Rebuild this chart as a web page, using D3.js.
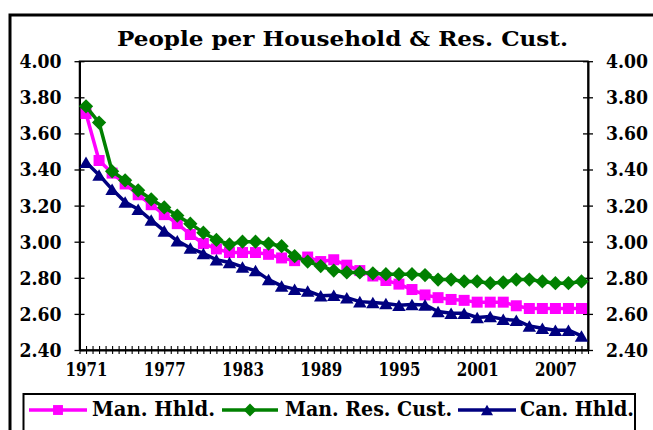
<!DOCTYPE html>
<html>
<head>
<meta charset="utf-8">
<script src="https://cdn.jsdelivr.net/npm/d3@7"></script>
<style>
  html, body { margin: 0; padding: 0; background: #fff; }
  svg { display: block; }
  text { font-family: "DejaVu Serif", "Liberation Serif", serif; font-weight: bold; fill: #000; }
</style>
</head>
<body>
<svg id="chart" width="653" height="430"></svg>
<script>
// People per household, 1971-2009
const years = [1971, 1972, 1973, 1974, 1975, 1976, 1977, 1978, 1979, 1980,
  1981, 1982, 1983, 1984, 1985, 1986, 1987, 1988, 1989, 1990,
  1991, 1992, 1993, 1994, 1995, 1996, 1997, 1998, 1999, 2000,
  2001, 2002, 2003, 2004, 2005, 2006, 2007, 2008, 2009];

const manHhld = [3.71, 3.45, 3.38, 3.32, 3.26, 3.205, 3.15, 3.10, 3.04, 2.99,
  2.96, 2.94, 2.94, 2.94, 2.93, 2.91, 2.895, 2.915, 2.89, 2.90,
  2.87, 2.84, 2.81, 2.785, 2.765, 2.735, 2.705, 2.69, 2.68, 2.675,
  2.665, 2.665, 2.665, 2.645, 2.63, 2.63, 2.63, 2.63, 2.63];

const manResCust = [3.75, 3.66, 3.39, 3.34, 3.285, 3.235, 3.19, 3.145, 3.10, 3.05,
  3.01, 2.985, 3.00, 3.00, 2.99, 2.975, 2.92, 2.89, 2.865, 2.84,
  2.83, 2.83, 2.825, 2.82, 2.82, 2.82, 2.815, 2.79, 2.79, 2.78,
  2.78, 2.77, 2.775, 2.79, 2.79, 2.78, 2.77, 2.77, 2.78];

const canHhld = [3.44, 3.37, 3.29, 3.22, 3.18, 3.12, 3.06, 3.005, 2.965, 2.935,
  2.90, 2.885, 2.86, 2.84, 2.79, 2.755, 2.737, 2.727, 2.70, 2.703,
  2.69, 2.668, 2.663, 2.658, 2.648, 2.652, 2.65, 2.613, 2.604, 2.604,
  2.58, 2.585, 2.57, 2.565, 2.533, 2.52, 2.51, 2.51, 2.478];

const yTicks = [2.40, 2.60, 2.80, 3.00, 3.20, 3.40, 3.60, 3.80, 4.00];
const xLabels = [1971, 1977, 1983, 1989, 1995, 2001, 2007];

const series = [
  { name: 'Man. Hhld.', values: manHhld, color: '#FF00FF', marker: 'square' },
  { name: 'Man. Res. Cust.', values: manResCust, color: '#008000', marker: 'diamond' },
  { name: 'Can. Hhld.', values: canHhld, color: '#000080', marker: 'triangle' }
];

const svg = d3.select('#chart');
const PLOT = { left: 79.5, right: 588, top: 61.2, bottom: 350 };

// fond + cadre épais (coupé à droite et en bas comme sur l'original)
svg.append('rect').attr('width', 653).attr('height', 430).attr('fill', '#fff');
svg.append('path')
  .attr('d', 'M10,440 L10,15 L670,15')
  .attr('fill', 'none').attr('stroke', '#000').attr('stroke-width', 3);

svg.append('text')
  .attr('x', 342.5).attr('y', 46)
  .attr('text-anchor', 'middle')
  .style('font-size', '21px')
  .attr('textLength', 451).attr('lengthAdjust', 'spacingAndGlyphs')
  .text('People per Household & Res. Cust.');

const x = d3.scaleLinear()
  .domain([years[0] - 0.5, years[years.length - 1] + 0.5])
  .range([PLOT.left, PLOT.right]);
const y = d3.scaleLinear().domain([2.4, 4.0]).range([PLOT.bottom, PLOT.top]);

// bordure de la zone de tracé
svg.append('rect')
  .attr('x', PLOT.left).attr('y', PLOT.top)
  .attr('width', PLOT.right - PLOT.left).attr('height', PLOT.bottom - PLOT.top)
  .attr('fill', 'none').attr('stroke', '#000').attr('stroke-width', 1.5);

// --- Axes Y (gauche + droite, graduations en croix) ---
const fmt = d3.format('.2f');
const yLeft = svg.append('g').attr('transform', `translate(${PLOT.left},0)`)
  .call(d3.axisLeft(y).tickValues(yTicks).tickFormat(fmt).tickSizeInner(5).tickSizeOuter(0).tickPadding(13));
const yRight = svg.append('g').attr('transform', `translate(${PLOT.right},0)`)
  .call(d3.axisRight(y).tickValues(yTicks).tickFormat(fmt).tickSizeInner(5).tickSizeOuter(0).tickPadding(13));
[yLeft, yRight].forEach((g, k) => {
  g.select('.domain').attr('stroke', '#000').attr('stroke-width', 2);
  g.selectAll('.tick line').attr('x1', k === 0 ? 5 : -5).attr('stroke-width', 1.3);
  g.selectAll('.tick text').style('font-size', '18px').attr('font-family', null).attr('dy', '0.36em')
    .attr('textLength', 42).attr('lengthAdjust', 'spacingAndGlyphs');
});

// --- Axe X : graduations toutes les demi-années, étiquettes tous les 6 ans ---
const halfSteps = d3.range(years[0] - 0.5, years[years.length - 1] + 0.51, 0.5);
const xTickG = svg.append('g').attr('transform', `translate(0,${PLOT.bottom})`)
  .call(d3.axisBottom(x).tickValues(halfSteps).tickFormat('').tickSizeInner(4).tickSizeOuter(0));
xTickG.select('.domain').attr('stroke', '#000').attr('stroke-width', 2);
xTickG.selectAll('.tick line').attr('y1', -4).attr('stroke-width', 1.1);

const xLabG = svg.append('g').attr('transform', `translate(0,${PLOT.bottom})`)
  .call(d3.axisBottom(x).tickValues(xLabels).tickFormat(d3.format('d')).tickSize(0).tickPadding(13));
xLabG.select('.domain').remove();
xLabG.selectAll('.tick text').style('font-size', '18px').attr('font-family', null)
  .attr('textLength', 42).attr('lengthAdjust', 'spacingAndGlyphs');

// --- Marqueurs ---
function markerPath(type, s) {
  if (type === 'square') return `M${-s / 2},${-s / 2}h${s}v${s}h${-s}Z`;
  if (type === 'diamond') { const h = s * 0.62; return `M0,${-h}L${h},0L0,${h}L${-h},0Z`; }
  const w = s * 0.56, h = s * 0.48;
  return `M0,${-h}L${w},${h}L${-w},${h}Z`;
}
const MARKER_SIZE = { square: 11, diamond: 11.5, triangle: 12 };

const line = d3.line().x((d, i) => x(years[i])).y(d => y(d));

series.forEach(s => {
  const g = svg.append('g');
  g.append('path').datum(s.values).attr('d', line)
    .attr('fill', 'none').attr('stroke', s.color).attr('stroke-width', 3.5).attr('stroke-linejoin', 'round');
  g.selectAll('path.m').data(s.values).enter().append('path').attr('class', 'm')
    .attr('transform', (d, i) => `translate(${x(years[i])},${y(d)})`)
    .attr('d', markerPath(s.marker, MARKER_SIZE[s.marker]))
    .attr('fill', s.color);
});

// --- Légende ---
svg.append('rect')
  .attr('x', 23.5).attr('y', 394).attr('width', 611.5).attr('height', 60)
  .attr('fill', '#fff').attr('stroke', '#000').attr('stroke-width', 2);

const legendPos = [
  { x1: 29, x2: 87, tx: 92, tw: 123 },
  { x1: 222, x2: 278, tx: 285, tw: 167 },
  { x1: 458, x2: 516, tx: 520, tw: 114 }
];
series.forEach((s, k) => {
  const p = legendPos[k];
  const g = svg.append('g');
  g.append('line').attr('x1', p.x1).attr('x2', p.x2).attr('y1', 410).attr('y2', 410)
    .attr('stroke', s.color).attr('stroke-width', 3.5);
  g.append('path').attr('transform', `translate(${(p.x1 + p.x2) / 2},410)`)
    .attr('d', markerPath(s.marker, MARKER_SIZE[s.marker] * 0.9)).attr('fill', s.color);
  g.append('text').attr('x', p.tx).attr('y', 416)
    .style('font-size', '20px')
    .attr('textLength', p.tw).attr('lengthAdjust', 'spacingAndGlyphs')
    .text(s.name);
});
</script>
</body>
</html>
